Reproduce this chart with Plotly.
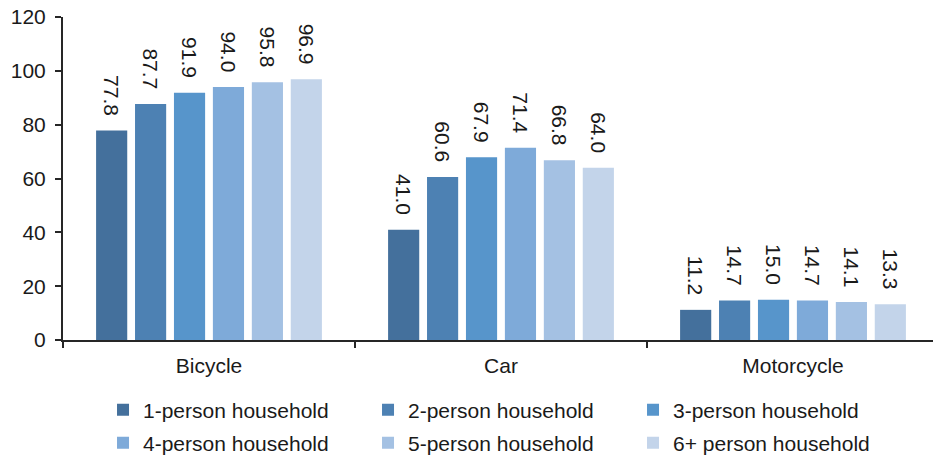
import plotly.graph_objects as go

categories = ["Bicycle", "Car", "Motorcycle"]
households = [
    "1-person household",
    "2-person household",
    "3-person household",
    "4-person household",
    "5-person household",
    "6+ person household",
]
values = {
    "1-person household": [77.8, 41.0, 11.2],
    "2-person household": [87.7, 60.6, 14.7],
    "3-person household": [91.9, 67.9, 15.0],
    "4-person household": [94.0, 71.4, 14.7],
    "5-person household": [95.8, 66.8, 14.1],
    "6+ person household": [96.9, 64.0, 13.3],
}
colors = ["#44709c", "#4d81b3", "#5795cb", "#7eaad9", "#a4c1e3", "#c3d4ea"]
y_ticks = [0, 20, 40, 60, 80, 100, 120]

FONT = "Liberation Sans, Arial, sans-serif"
TXT = "#1a1a1a"
FS = 21

fig = go.Figure()
for i, (name, color) in enumerate(zip(households, colors)):
    fig.add_trace(go.Bar(
        x=categories,
        y=values[name],
        name=name,
        marker=dict(color=color, line=dict(width=0)),
        # trailing spaces lift the rotated label a little off the bar top
        texttemplate="%{y:.1f}&nbsp;&nbsp;",
        textposition="outside",
        textangle=90,
        constraintext="none",
        textfont=dict(family=FONT, size=FS, color=TXT),
        cliponaxis=False,
        legend="legend" if i < 3 else "legend2",
    ))

legend_common = dict(
    orientation="h",
    xanchor="left",
    yanchor="middle",
    x=0.046,
    font=dict(family=FONT, size=FS, color=TXT),
    entrywidth=220,
    entrywidthmode="pixels",
    bgcolor="rgba(0,0,0,0)",
    itemclick=False,
)

fig.update_layout(
    width=933,
    height=459,
    margin=dict(l=63, r=0, t=17, b=119, autoexpand=False),
    paper_bgcolor="white",
    plot_bgcolor="white",
    barmode="group",
    bargap=0.2,
    bargroupgap=0.2,
    font=dict(family=FONT, size=FS, color=TXT),
    legend=dict(legend_common, y=-0.217),
    legend2=dict(legend_common, y=-0.319),
    xaxis=dict(
        type="category",
        range=[-0.5, -0.5 + 870 / 292],
        showline=True,
        linecolor="#262626",
        linewidth=2,
        ticks="outside",
        tickson="boundaries",
        ticklen=6,
        tickcolor="#262626",
        tickwidth=2,
        ticklabelstandoff=6,
        tickfont=dict(family=FONT, size=FS, color=TXT),
        showgrid=False,
    ),
    yaxis=dict(
        range=[0, 120],
        tickvals=y_ticks,
        showline=True,
        linecolor="#262626",
        linewidth=2,
        ticks="outside",
        ticklen=6,
        tickcolor="#262626",
        tickwidth=2,
        ticklabelstandoff=5,
        tickfont=dict(family=FONT, size=FS, color=TXT),
        showgrid=False,
        zeroline=False,
    ),
)

fig.write_html("out.html")
